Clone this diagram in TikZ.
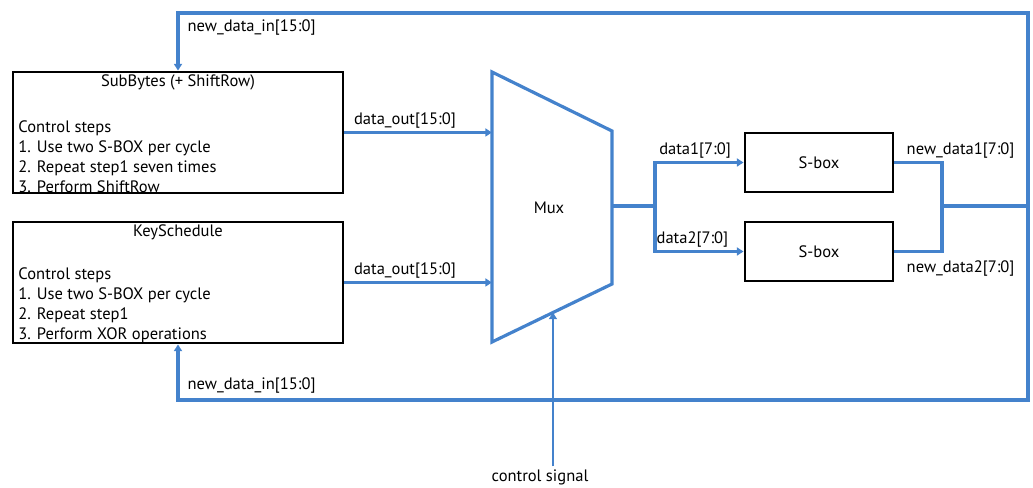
\documentclass[tikz,border=0pt]{standalone}
\usepackage{fontspec}
\setmainfont{PT Sans}
\usepackage{xcolor}
\usetikzlibrary{arrows.meta,positioning,calc}
\definecolor{wireblue}{RGB}{68,130,204}

\begin{document}
\begin{tikzpicture}[x=0.75pt, y=-0.75pt,
  block/.style={draw, line width=2.2pt, minimum width=247.5pt, minimum height=90.75pt, inner sep=0pt},
  sbox/.style={draw, line width=2.2pt, minimum width=111pt, minimum height=44.25pt, font=\fontsize{12.4}{14}\selectfont},
  boxtitle/.style={font=\fontsize{12.4}{14}\selectfont, inner sep=1pt},
  steps/.style={font=\fontsize{12.4}{15}\selectfont, align=left, inner sep=2pt},
  wire/.style={wireblue, line width=2.4pt},
  arrow/.style={wire, -{Triangle[length=5pt,width=6pt]}},
  sig/.style={font=\fontsize{12.4}{14}\selectfont, text=black, inner sep=2pt}
]
\useasboundingbox (0,0) rectangle (1033,488);

\node[block] (sub) at (178,132.5) {};
\node[boxtitle, below=2pt of sub.north] (subtitle) {SubBytes (+ ShiftRow)};
\node[steps, anchor=south west] (substeps) at ($(sub.south west)+(4,1)$)
  {Control steps\\1. Use two S-BOX per cycle\\2. Repeat step1 seven times\\3. Perform ShiftRow};

\node[block] (key) at (178,282.5) {};
\node[boxtitle, below=2pt of key.north] (keytitle) {KeySchedule};
\node[steps, anchor=south west] (keysteps) at ($(key.south west)+(4,1)$)
  {Control steps\\1. Use two S-BOX per cycle\\2. Repeat step1\\3. Perform XOR operations};

% multiplexer
\coordinate (mtl) at (492,72);
\coordinate (mtr) at (612,131);
\coordinate (mbr) at (612,284);
\coordinate (mbl) at (492,342);
\draw[wire, line join=miter] (mtl) -- (mtr) -- (mbr) -- (mbl) -- cycle;
\node[sig] (mux) at (549,208) {Mux};

\draw[arrow] (sub.east) -- (sub.east -| mtl) node[sig, pos=0, above right, xshift=4pt] {data\_out[15:0]};
\draw[arrow] (key.east) -- (key.east -| mtl) node[sig, pos=0, above right, xshift=4pt] {data\_out[15:0]};

% s-boxes
\node[sbox] (s1) at (819,162.5) {S-box};
\node[sbox] (s2) at (819,251.5) {S-box};

\coordinate (mout) at (612,206);
\coordinate (split) at (655,206);
\coordinate (join) at (942,206);
\draw[wire] (mout) -- (split);
\draw[arrow] (split) |- (s1.west) node[sig, pos=0.5, anchor=south west] {data1[7:0]};
\draw[arrow] (split) |- (s2.west) node[sig, pos=0.5, anchor=south west, xshift=-2pt] {data2[7:0]};
\draw[wire] (s1.east) -| (join) node[sig, pos=0, anchor=south west, xshift=6pt] {new\_data1[7:0]};
\draw[wire] (s2.east) -| (join) node[sig, pos=0, anchor=north west, xshift=6pt, yshift=-4pt] {new\_data2[7:0]};

% feedback
\coordinate (ne) at (1028,13);
\coordinate (se) at (1028,400);
\draw[wire] (join) -- (join -| ne);
\draw[arrow] (join -| ne) -- (ne) -| (sub.north) node[sig, pos=0.5, below right, xshift=4pt, yshift=-2pt] {new\_data\_in[15:0]};
\draw[arrow] (join -| ne) -- (se) -| (key.south) node[sig, pos=0.5, above right, xshift=4pt, yshift=2pt] {new\_data\_in[15:0]};

% control
\node[sig] (ctrl) at (540,477) {control signal};
\coordinate (cmux) at ($(mbl)!0.508!(mbr)$);
\draw[arrow, line width=1.6pt] (ctrl.north -| cmux) -- (cmux);
\end{tikzpicture}
\end{document}
